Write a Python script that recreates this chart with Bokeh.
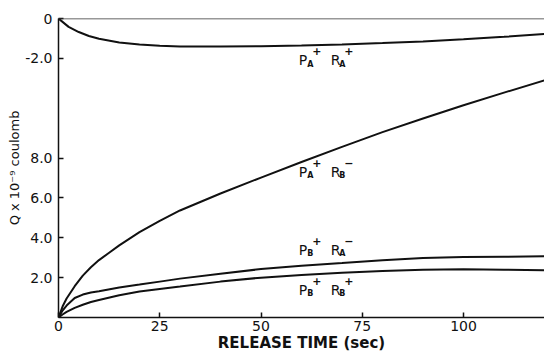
from bokeh.plotting import figure
from bokeh.models import Range1d, FixedTicker, Span
from bokeh.core.properties import value
from bokeh.embed import file_html
from bokeh.resources import INLINE

# ---- data ----
# P_A+ R_A+ : negative charge, drawn on the upper (offset) scale whose 0 sits at 15
t_aa = [0, 2.5, 5, 7.5, 10, 15, 20, 25, 30, 40, 50, 60, 70, 80, 90, 100, 110, 120]
q_aa = [0, -0.42, -0.68, -0.88, -1.02, -1.2, -1.31, -1.37, -1.40, -1.41, -1.39,
        -1.36, -1.30, -1.23, -1.15, -1.04, -0.92, -0.78]

t_ab = [0, 1, 2, 4, 6, 8, 10, 12.5, 15, 20, 25, 30, 40, 50, 60, 70, 80, 90, 100, 110, 120]
q_ab = [0, 0.55, 0.95, 1.57, 2.1, 2.52, 2.88, 3.25, 3.62, 4.28, 4.85, 5.37, 6.22,
        7.02, 7.8, 8.56, 9.3, 9.98, 10.65, 11.28, 11.9]

t_ba = [0, 1, 2, 4, 6, 8, 10, 15, 20, 25, 30, 40, 50, 60, 70, 80, 90, 100, 110, 120]
q_ba = [0, 0.35, 0.6, 0.98, 1.15, 1.25, 1.32, 1.51, 1.65, 1.8, 1.95, 2.2, 2.43,
        2.6, 2.73, 2.87, 2.98, 3.03, 3.05, 3.07]

t_bb = [0, 1, 2, 4, 6, 8, 10, 15, 20, 25, 30, 40, 50, 60, 70, 80, 90, 100, 110, 120]
q_bb = [0, 0.15, 0.28, 0.48, 0.64, 0.78, 0.88, 1.12, 1.3, 1.43, 1.55, 1.8, 2.0,
        2.13, 2.24, 2.33, 2.4, 2.42, 2.4, 2.37]

UPPER_ZERO = 15  # the upper (negative) scale's zero on the shared axis

x_ticks = [0, 25, 50, 75, 100]
y_ticks = [2, 4, 6, 8, 13, 15]
y_tick_labels = {2: "2.0", 4: "4.0", 6: "6.0", 8: "8.0", 13: "-2.0", 15: "0"}

# curve labels: (P subscript, P superscript, R subscript, R superscript, v)
label_t_p = 59.3
label_t_r = 67.2
label_specs = [
    ("A", "+", "A", "+", 12.9),
    ("A", "+", "B", "\u2212", 7.3),
    ("B", "+", "A", "\u2212", 3.4),
    ("B", "+", "B", "+", 1.4),
]

FONT = "DejaVu Sans"
INK = "#111111"

p = figure(width=544, height=354, output_backend="svg", toolbar_location=None,
           x_range=Range1d(0, 120), y_range=Range1d(0, 15),
           min_border_left=58, min_border_right=0, min_border_top=18,
           min_border_bottom=36, background_fill_color="white",
           border_fill_color="white")
p.outline_line_color = None
p.xgrid.visible = False
p.ygrid.visible = False

for ax in (p.xaxis[0], p.yaxis[0]):
    ax.axis_line_color = INK
    ax.axis_line_width = 1.5
    ax.major_tick_line_color = INK
    ax.major_tick_line_width = 1.5
    ax.major_tick_in = 5
    ax.major_tick_out = 0
    ax.minor_tick_line_color = None
    ax.major_label_text_font = FONT
    ax.major_label_text_font_size = "14px"
    ax.major_label_text_color = INK
    ax.axis_label_text_font = FONT
    ax.axis_label_text_font_style = "normal"
    ax.axis_label_text_color = INK

p.xaxis.ticker = FixedTicker(ticks=x_ticks)
p.xaxis.major_label_standoff = 3
p.xaxis.axis_label = "RELEASE TIME (sec)"
p.xaxis.axis_label_text_font_size = "15px"
p.xaxis.axis_label_text_font_style = "bold"
p.xaxis.axis_label_standoff = 0

p.yaxis.ticker = FixedTicker(ticks=y_ticks)
p.yaxis.major_label_overrides = y_tick_labels
p.yaxis.major_label_standoff = 6
p.yaxis.axis_label = "Q x 10\u207b\u2079 coulomb"
p.yaxis.axis_label_text_font_size = "13px"
p.yaxis.axis_label_standoff = 0

# zero line of the upper scale
p.add_layout(Span(location=UPPER_ZERO, dimension="width", line_color="#333333",
                  line_width=1.5))

p.line(t_aa, [UPPER_ZERO + q for q in q_aa], line_color=INK, line_width=2)
p.line(t_ab, q_ab, line_color=INK, line_width=2)
p.line(t_ba, q_ba, line_color=INK, line_width=2)
p.line(t_bb, q_bb, line_color=INK, line_width=2)

# curve labels
main_x, main_y, main_txt = [], [], []
sub_x, sub_y, sub_txt = [], [], []
sup_x, sup_y, sup_txt = [], [], []
for ps, psup, rs, rsup, v in label_specs:
    for t, s, sp, letter in ((label_t_p, ps, psup, "P"), (label_t_r, rs, rsup, "R")):
        main_x.append(t); main_y.append(v); main_txt.append(letter)
        sub_x.append(t); sub_y.append(v); sub_txt.append(s)
        sup_x.append(t); sup_y.append(v); sup_txt.append(sp)

p.text(x=main_x, y=main_y, text=main_txt, text_font=value(FONT),
       text_font_size="14px", text_align="left", text_baseline="alphabetic",
       text_color=INK)
p.text(x=sub_x, y=sub_y, text=sub_txt, text_font=value(FONT),
       text_font_size="8px", text_font_style="bold", text_align="left",
       text_baseline="alphabetic", text_color=INK, x_offset=8.5, y_offset=4)
p.text(x=sup_x, y=sup_y, text=sup_txt, text_font=value(FONT),
       text_font_size="11px", text_font_style="bold", text_align="left",
       text_baseline="middle", text_color=INK, x_offset=13.5, y_offset=-9)

open("out.html", "w").write(file_html(p, INLINE))
